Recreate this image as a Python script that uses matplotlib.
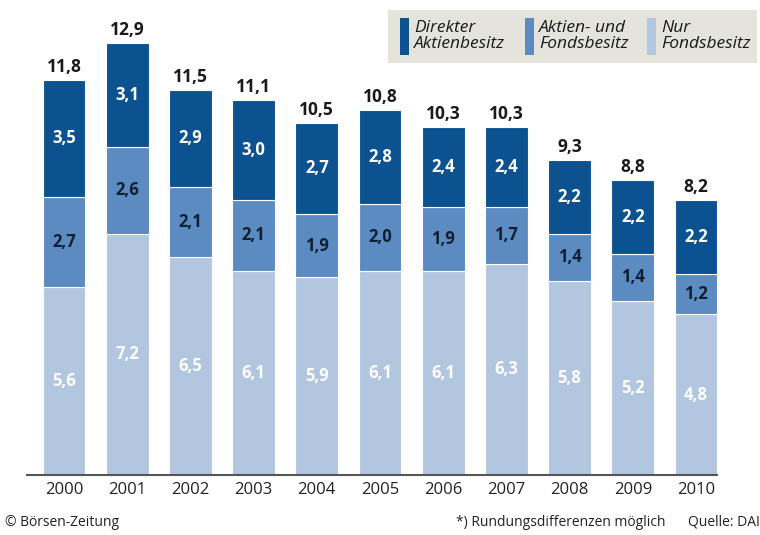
import matplotlib
matplotlib.use('Agg')
import matplotlib.pyplot as plt
from matplotlib.patches import Rectangle

# Data (Mio. Aktionaere / Fondsbesitzer)
years = ["2000", "2001", "2002", "2003", "2004", "2005", "2006", "2007", "2008", "2009", "2010"]
nur_fonds = [5.6, 7.2, 6.5, 6.1, 5.9, 6.1, 6.1, 6.3, 5.8, 5.2, 4.8]
aktien_und_fonds = [2.7, 2.6, 2.1, 2.1, 1.9, 2.0, 1.9, 1.7, 1.4, 1.4, 1.2]
direkt = [3.5, 3.1, 2.9, 3.0, 2.7, 2.8, 2.4, 2.4, 2.2, 2.2, 2.2]
totals = [11.8, 12.9, 11.5, 11.1, 10.5, 10.8, 10.3, 10.3, 9.3, 8.8, 8.2]

c_dark = "#0d5290"
c_mid = "#5b8bc0"
c_light = "#b2c6e0"

plt.rcParams['font.family'] = ['Open Sans', 'DejaVu Sans']

fig = plt.figure(figsize=(7.6, 5.35), dpi=100)
ax = fig.add_axes([27 / 760, 1 - 475 / 535, 690 / 760, 475 / 535])
pitch = 63.2
ax.set_xlim((27 - 64) / pitch, (717 - 64) / pitch)
ax.set_ylim(0, 475 / 33.5)

x = range(len(years))
w = 0.68
bottom2 = [a + b for a, b in zip(nur_fonds, aktien_und_fonds)]
ax.bar(x, nur_fonds, w, color=c_light, edgecolor="white", linewidth=0.8)
ax.bar(x, aktien_und_fonds, w, bottom=nur_fonds, color=c_mid, edgecolor="white", linewidth=0.8)
ax.bar(x, direkt, w, bottom=bottom2, color=c_dark, edgecolor="white", linewidth=0.8)

fmt = lambda v: f"{v:.1f}".replace(".", ",")
for i in x:
    ax.text(i, nur_fonds[i] / 2, fmt(nur_fonds[i]), ha="center", va="center",
            color="white", fontsize=12, fontweight="bold")
    ax.text(i, nur_fonds[i] + aktien_und_fonds[i] / 2, fmt(aktien_und_fonds[i]),
            ha="center", va="center", color="#0d1f33", fontsize=12, fontweight="bold")
    ax.text(i, bottom2[i] + direkt[i] / 2, fmt(direkt[i]), ha="center", va="center",
            color="white", fontsize=12, fontweight="bold")
    top = bottom2[i] + direkt[i]
    ax.text(i, top + 0.12, fmt(totals[i]), ha="center", va="bottom",
            color="#1a1a1a", fontsize=12.5, fontweight="bold")

for s in ["top", "right", "left"]:
    ax.spines[s].set_visible(False)
ax.spines["bottom"].set_color("#555555")
ax.spines["bottom"].set_linewidth(1.5)
ax.set_yticks([])
ax.set_xticks(list(x))
ax.set_xticklabels(years, fontsize=12, color="#222222")
ax.tick_params(axis="x", length=0, pad=5)

# Legend box
fig.patches.append(Rectangle((388 / 760, 1 - 63 / 535), 369 / 760, 53 / 535,
                             transform=fig.transFigure, facecolor="#e4e4dd",
                             edgecolor="none", zorder=0))
leg_items = [(c_dark, "Direkter\nAktienbesitz", 400),
             (c_mid, "Aktien- und\nFondsbesitz", 525),
             (c_light, "Nur\nFondsbesitz", 647)]
for col, lab, px in leg_items:
    fig.patches.append(Rectangle((px / 760, 1 - 55 / 535), 9 / 760, 37 / 535,
                                 transform=fig.transFigure, facecolor=col,
                                 edgecolor="none", zorder=1))
    fig.text((px + 14) / 760, 1 - 36 / 535, lab, ha="left", va="center",
             fontsize=12.5, style="italic", color="#1a1a1a", linespacing=0.95)

# Footer
fig.text(5 / 760, 1 - 522 / 535, "© Börsen-Zeitung", ha="left", va="center",
         fontsize=10, color="#222222")
fig.text(665 / 760, 1 - 522 / 535, "*) Rundungsdifferenzen möglich", ha="right",
         va="center", fontsize=10, color="#222222")
fig.text(688 / 760, 1 - 522 / 535, "Quelle: DAI", ha="left", va="center",
         fontsize=10, color="#222222")

fig.savefig("out.png", dpi=100)
